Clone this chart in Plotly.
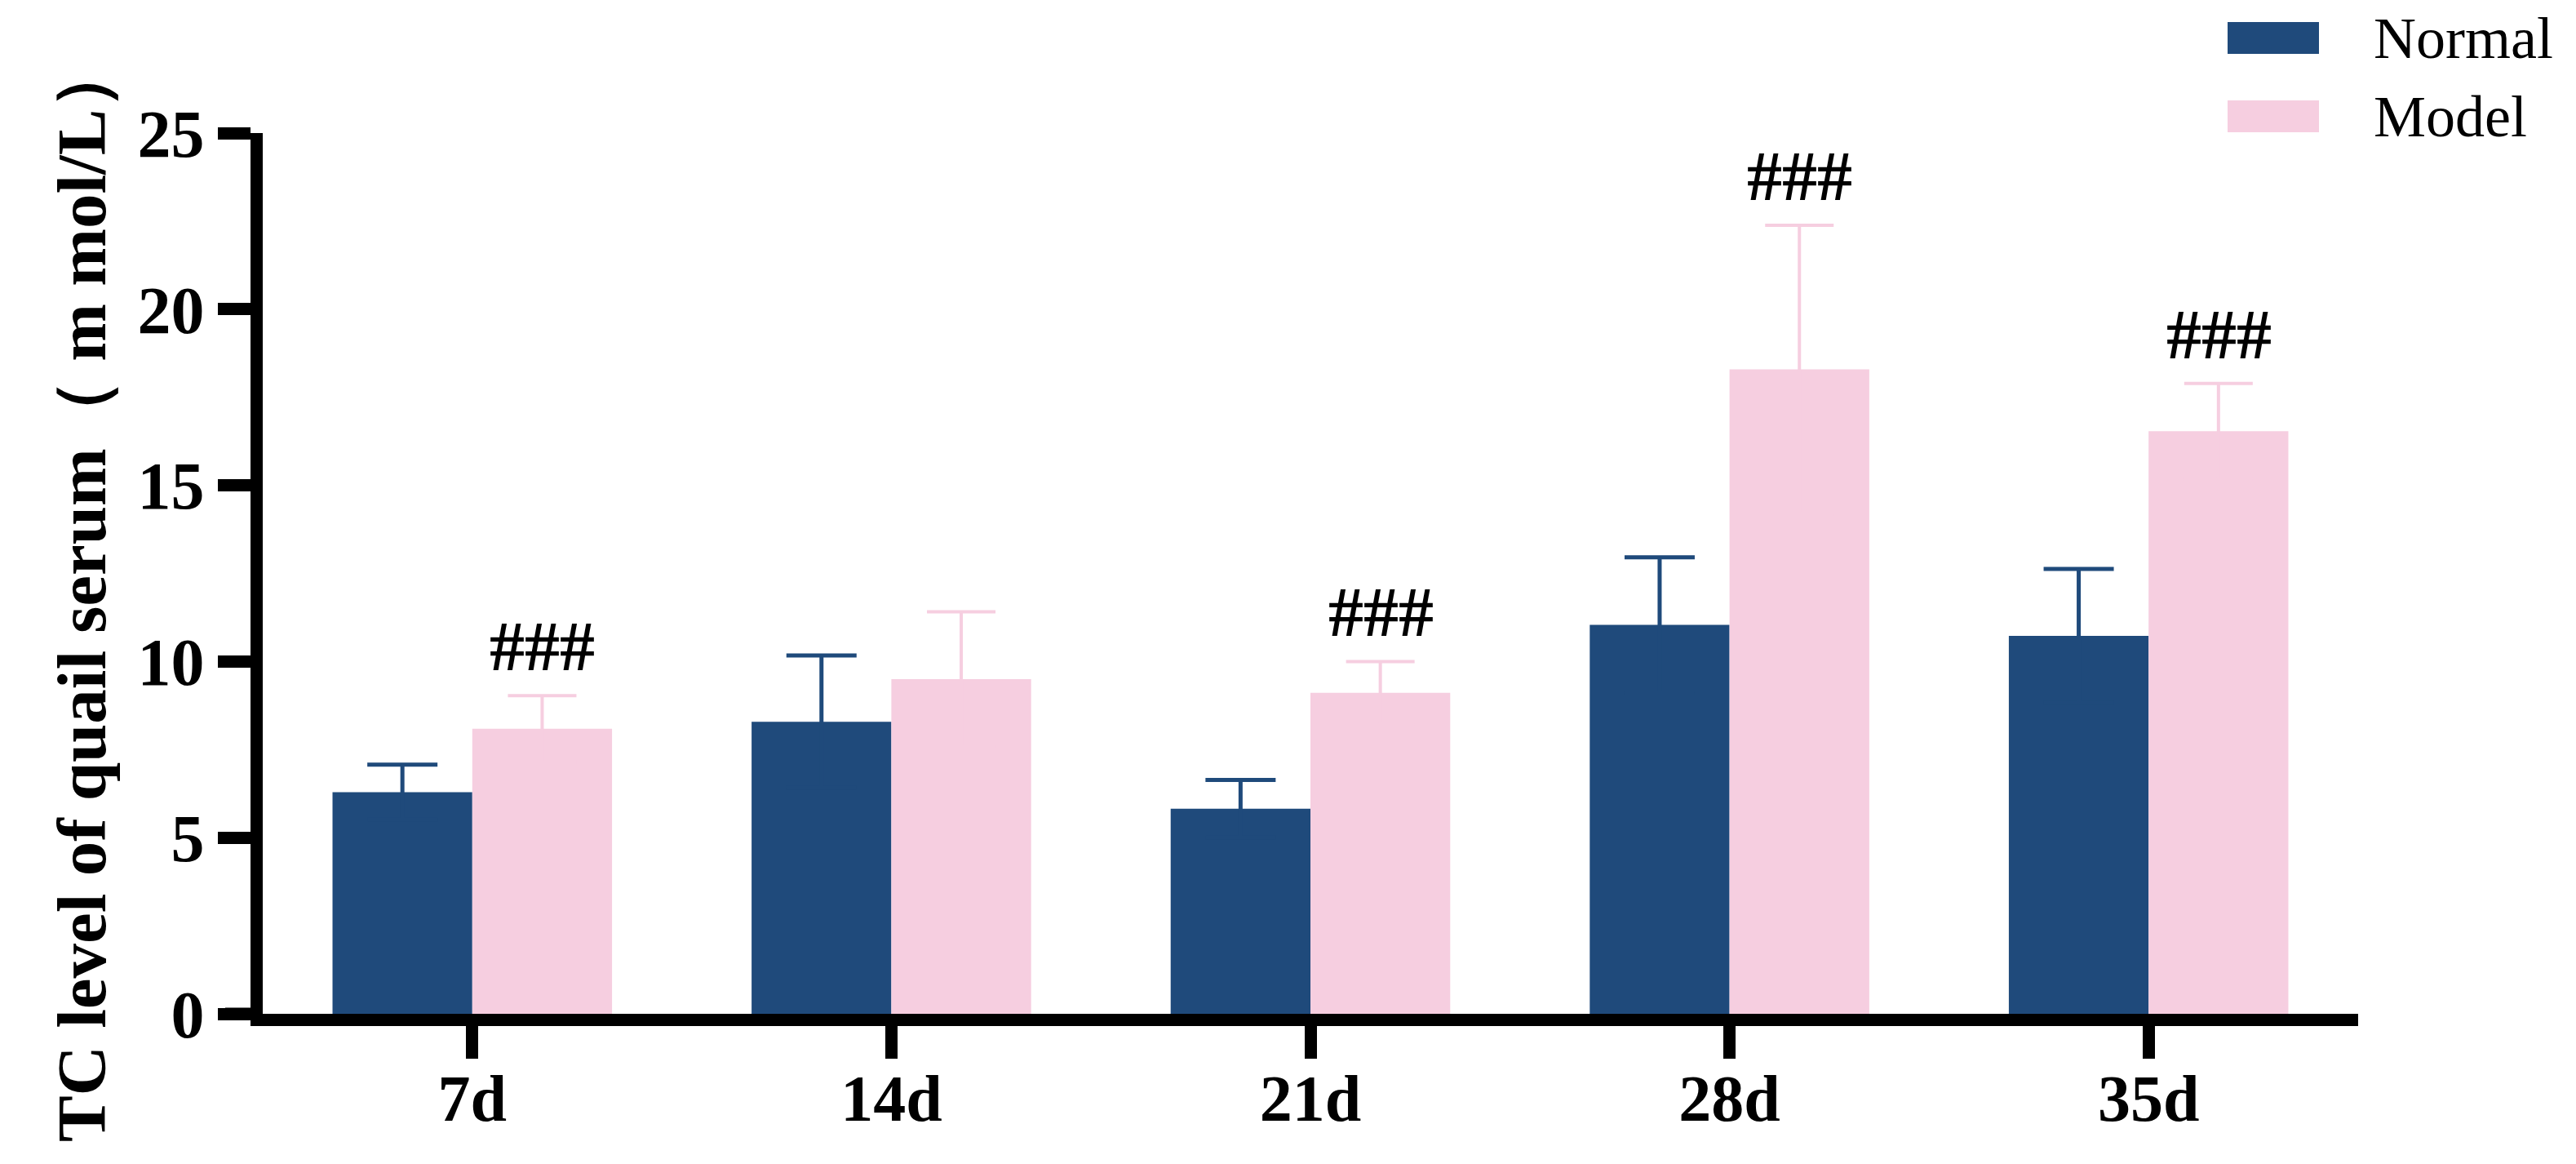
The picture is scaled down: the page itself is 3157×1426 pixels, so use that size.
import plotly.graph_objects as go

days = ["7d", "14d", "21d", "28d", "35d"]
groups = ["Normal", "Model"]
normal = [6.29, 8.29, 5.82, 11.04, 10.73]
normal_err = [0.78, 1.88, 0.82, 1.92, 1.90]
model = [8.09, 9.50, 9.11, 18.29, 16.54]
model_err = [0.94, 1.91, 0.89, 4.09, 1.35]
sig = ["###", "", "###", "###", "###"]

navy = "#1F4A7B"
pink = "#F6CEE0"
serif = "Liberation Serif, Times New Roman, serif"

fig = go.Figure()
# error bars are symmetric but share the bar colour, so only the upper half shows
fig.add_trace(go.Bar(
    x=days, y=normal, name=groups[0], marker=dict(color=navy, line=dict(width=0)),
    error_y=dict(type="data", array=normal_err, color=navy, thickness=5, width=43),
))
fig.add_trace(go.Bar(
    x=days, y=model, name=groups[1], marker=dict(color=pink, line=dict(width=0)),
    error_y=dict(type="data", array=model_err, color=pink, thickness=4, width=42),
))

# significance marks above the Model bars
for d, m, e, s in zip(days, model, model_err, sig):
    if s:
        fig.add_annotation(x=d, y=m + e, text="<b>" + s + "</b>", showarrow=False, xshift=86,
                           yshift=10, yanchor="bottom",
                           font=dict(family=serif, size=86, color="black"))

# hand-made legend with large swatches
for i, (name, col) in enumerate(zip(groups, [navy, pink])):
    top = 136 - i * 96
    fig.add_shape(type="rect", xref="paper", yref="paper", xsizemode="pixel", ysizemode="pixel",
                  xanchor=1, yanchor=1, x0=-160, x1=-48, y0=top - 39, y1=top,
                  fillcolor=col, line=dict(width=0))
    fig.add_annotation(xref="paper", yref="paper", x=1, y=1, xshift=17, yshift=top - 20,
                       xanchor="left", yanchor="middle", text=name, showarrow=False,
                       font=dict(family=serif, size=72, color="black"))

# y title
fig.add_annotation(xref="paper", yref="paper", x=0, y=0.48, xshift=-222, xanchor="center",
                   yanchor="middle", textangle=-90,
                   text="<b>TC level of quail serum（ m mol/L）</b>", showarrow=False,
                   font=dict(family=serif, size=85, color="black"))

# x axis line runs a little past the y axis, like the original
fig.add_shape(type="line", xref="paper", yref="y", xsizemode="pixel", xanchor=0,
              x0=-46, x1=0, y0=0, y1=0, line=dict(color="black", width=15))

fig.update_layout(
    width=3157, height=1426,
    margin=dict(l=314, r=275, t=155, b=192),
    barmode="group", bargap=0.333, bargroupgap=0,
    plot_bgcolor="white", paper_bgcolor="white",
    showlegend=False,
    font=dict(family=serif, color="black"),
)
fig.update_xaxes(range=[-0.5, 4.5], showline=True, linecolor="black", linewidth=15,
                 ticks="outside", ticklen=40, tickwidth=15, tickcolor="black",
                 ticklabelstandoff=-20,
                 tickfont=dict(family=serif, size=80, color="black", weight="bold"),
                 showgrid=False, zeroline=False)
fig.update_yaxes(range=[0, 25], tickvals=[0, 5, 10, 15, 20, 25], showline=True,
                 linecolor="black", linewidth=15, ticks="outside", ticklen=40, tickwidth=15,
                 tickcolor="black",
                 tickfont=dict(family=serif, size=82, color="black", weight="bold"),
                 showgrid=False, zeroline=False)

fig.write_html("out.html")
